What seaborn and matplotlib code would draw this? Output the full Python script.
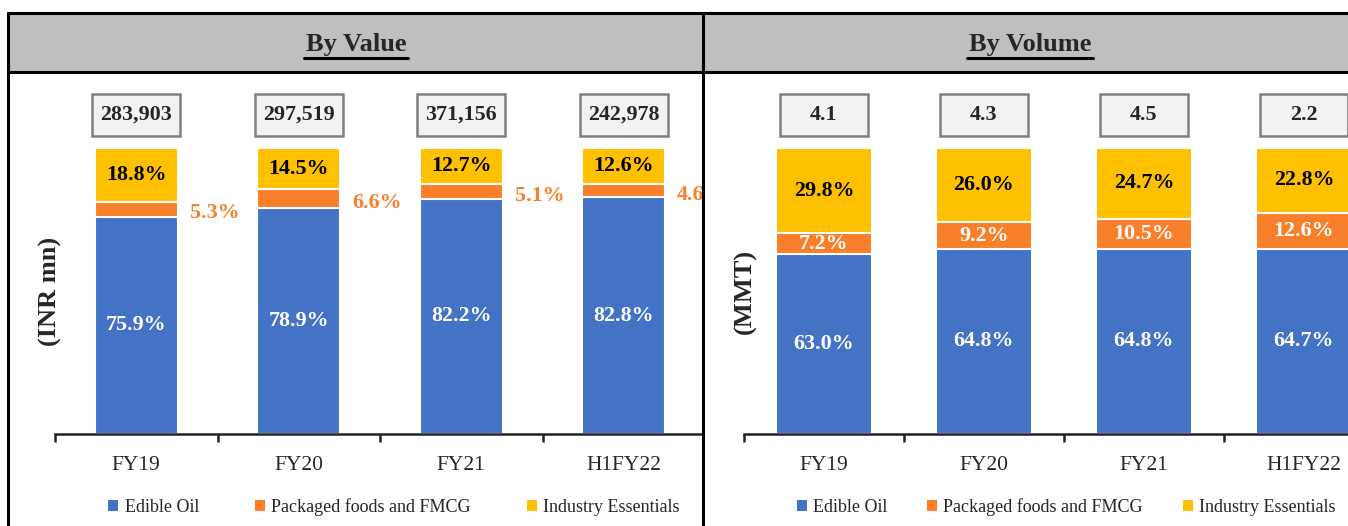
import matplotlib
matplotlib.use("Agg")
import matplotlib.pyplot as plt
import seaborn as sns
import pandas as pd
import numpy as np
from matplotlib.patches import Rectangle
from matplotlib.lines import Line2D

sns.set_theme(style="white")
plt.rcParams['font.family'] = ['Liberation Serif', 'DejaVu Serif']

categories = ["FY19", "FY20", "FY21", "H1FY22"]
series_names = ["Edible Oil", "Packaged foods and FMCG", "Industry Essentials"]
value_edible = [75.9, 78.9, 82.2, 82.8]
value_packaged = [5.3, 6.6, 5.1, 4.6]
value_industry = [18.8, 14.5, 12.7, 12.6]
value_totals = ["283,903", "297,519", "371,156", "242,978"]
volume_edible = [63.0, 64.8, 64.8, 64.7]
volume_packaged = [7.2, 9.2, 10.5, 12.6]
volume_industry = [29.8, 26.0, 24.7, 22.8]
volume_totals = ["4.1", "4.3", "4.5", "2.2"]

BLUE = "#4472C4"
ORANGE = "#F97F2B"
YELLOW = "#FFC000"
colors = [BLUE, ORANGE, YELLOW]
LBL = 15.8

W, H = 1348, 526
fig = plt.figure(figsize=(W / 100, H / 100), dpi=100)

def fx(px):
    return px / W

def fy(py):
    return 1 - py / H

# header backgrounds and borders
fig.patches.append(Rectangle((fx(8), fy(72)), fx(1348 - 8), (72 - 13) / H,
                             transform=fig.transFigure, facecolor="#BFBFBF",
                             edgecolor="none", zorder=0))
for (x0, y0, x1, y1) in [(8, 13, 1348, 13), (8, 72, 1348, 72), (8, 13, 8, 526), (703, 13, 703, 526)]:
    fig.lines.append(Line2D([fx(x0), fx(x1)], [fy(y0), fy(y1)], transform=fig.transFigure,
                            color="black", lw=2.2, zorder=5))

def header(text, cx, underline_w):
    fig.text(fx(cx), fy(44), text, ha="center", va="center", fontsize=19, fontweight="bold")
    fig.lines.append(Line2D([fx(cx - underline_w / 2), fx(cx + underline_w / 2)], [fy(57.5), fy(57.5)],
                            transform=fig.transFigure, color="black", lw=2.2))

header("By Value", 356, 104)
header("By Volume", 1030, 126)

AX_BOTTOM = 434
AX_TOP = 148


def panel(left_px, cat_w, bar_w, right_px, edible, packaged, industry, totals, outside_orange,
          ylabel, ylabel_x, legend_cx, colspace):
    ax = fig.add_axes([fx(left_px), fy(AX_BOTTOM), (right_px - left_px) / W, (AX_BOTTOM - AX_TOP) / H])
    df = pd.DataFrame({"cat": categories, "e": edible, "p": packaged, "i": industry})
    df["ep"] = df["e"] + df["p"]
    df["all"] = df["ep"] + df["i"]
    # stacked bars via seaborn (drawn top-down so lower segments cover)
    for col, c in [("all", YELLOW), ("ep", ORANGE), ("e", BLUE)]:
        sns.barplot(data=df, x="cat", y=col, color=c, saturation=1, width=bar_w, ax=ax,
                    edgecolor="white", linewidth=1.5)
    for s in ["top", "right", "left"]:
        ax.spines[s].set_visible(False)
    ax.spines["bottom"].set_color("#222222")
    ax.spines["bottom"].set_linewidth(1.8)
    ax.set_yticks([])
    ax.set_xlabel("")
    ax.set_ylabel("")
    ax.set_xticks(range(len(categories)))
    ax.set_xticklabels(categories, fontsize=15.5)
    ax.set_xticks(np.arange(-0.5, len(categories), 1.0), minor=True)
    ax.tick_params(axis="x", which="major", bottom=True, length=0, pad=16)
    ax.tick_params(axis="x", which="minor", bottom=True, length=6, width=1.8, color="#222222", direction="out")
    n_vis = (right_px - left_px) / cat_w
    ax.set_xlim(-0.5, n_vis - 0.5)
    ax.set_ylim(0, 100)
    ax.patch.set_alpha(0)

    for i in range(len(categories)):
        e, p, ind = edible[i], packaged[i], industry[i]
        ax.text(i, e / 2, f"{e:.1f}%", ha="center", va="center", color="white", fontsize=LBL,
                fontweight="bold", clip_on=True)
        ax.text(i, e + p + ind / 2, f"{ind:.1f}%", ha="center", va="center", color="black", fontsize=LBL,
                fontweight="bold", clip_on=True)
        if outside_orange:
            ax.annotate(f"{p:.1f}%", xy=(i + bar_w / 2, e + p / 2), xytext=(12, -4), textcoords="offset pixels",
                        ha="left", va="center", color=ORANGE, fontsize=LBL, fontweight="bold",
                        annotation_clip=False, clip_on=True)
        else:
            ax.text(i, e + p / 2, f"{p:.1f}%", ha="center", va="center", color="white", fontsize=LBL,
                    fontweight="bold", clip_on=True)
        # total box
        bw = 88 / cat_w
        rect = Rectangle((i - bw / 2, (AX_BOTTOM - 136) / (AX_BOTTOM - AX_TOP) * 100), bw,
                         42 / (AX_BOTTOM - AX_TOP) * 100, facecolor="#F2F2F2", edgecolor="#7F7F7F",
                         lw=1.8, clip_on=True, zorder=4)
        ax.add_patch(rect)
        rect.set_clip_box(None)
        ax.text(i, (AX_BOTTOM - 115) / (AX_BOTTOM - AX_TOP) * 100, totals[i], ha="center", va="center",
                fontsize=LBL, fontweight="bold", zorder=5, clip_on=False)

    fig.text(fx(ylabel_x), fy(291), ylabel, rotation=90, ha="center", va="center", fontsize=19, fontweight="bold")

    handles = [Rectangle((0, 0), 1, 1, facecolor=c, edgecolor="none") for c in colors]
    fig.legend(handles, series_names, loc="center", bbox_to_anchor=(fx(legend_cx), fy(507)), ncol=3,
               frameon=False, fontsize=13, handlelength=0.55, handleheight=0.55, handletextpad=0.35,
               columnspacing=colspace)
    return ax

panel(55, 162.5, 0.51, 703, value_edible, value_packaged, value_industry, value_totals, True,
      "(INR mn)", 50, 394, 3.1)
panel(744, 160.0, 0.60, 1348, volume_edible, volume_packaged, volume_industry, volume_totals, False,
      "(MMT)", 745, 1066, 2.2)

fig.savefig("out.png", dpi=100)
